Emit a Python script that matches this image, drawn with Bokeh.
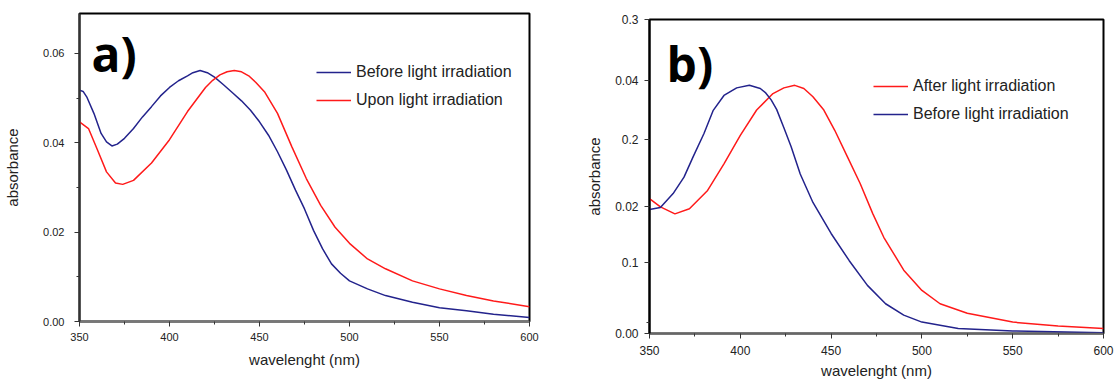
from bokeh.plotting import figure
from bokeh.layouts import row, column
from bokeh.models import Range1d, FixedTicker, Label, Legend, LegendItem
from bokeh.embed import file_html
from bokeh.resources import INLINE

# ---------------- data: panel a ----------------
a_before_x = [350, 352, 354, 358, 362, 365, 368, 371, 375, 380, 385, 390, 395, 400, 405,
              410, 413, 417, 421, 425, 430, 435, 440, 445, 450, 455, 460, 465, 470, 475,
              480, 485, 490, 495, 500, 510, 520, 535, 550, 565, 580, 600]
a_before_y = [0.0518, 0.0515, 0.0503, 0.0466, 0.0421, 0.0402, 0.0393, 0.0397, 0.0410,
              0.0432, 0.0458, 0.0481, 0.0505, 0.0524, 0.0539, 0.0550, 0.0557, 0.0562,
              0.0557, 0.0547, 0.0530, 0.0512, 0.0494, 0.0473, 0.0447, 0.0417, 0.0380,
              0.0339, 0.0294, 0.0252, 0.0204, 0.0163, 0.0129, 0.0108, 0.0091, 0.0073,
              0.0058, 0.0043, 0.0031, 0.0024, 0.0016, 0.0009]
a_upon_x = [350, 355, 360, 365, 370, 374, 380, 390, 400, 410, 420, 424, 428, 432, 436,
            440, 444, 448, 453, 460, 468, 476, 484, 492, 500, 510, 520, 535, 550, 565,
            580, 600]
a_upon_y = [0.0447, 0.0432, 0.0384, 0.0335, 0.0310, 0.0307, 0.0316, 0.0355, 0.0407,
            0.0470, 0.0524, 0.0540, 0.0552, 0.0559, 0.0562, 0.0559, 0.0550, 0.0535,
            0.0513, 0.0466, 0.0391, 0.0320, 0.0260, 0.0211, 0.0175, 0.0140, 0.0118,
            0.0091, 0.0073, 0.0058, 0.0046, 0.0033]

# ---------------- data: panel b ----------------
b_after_x = [350, 356, 364, 372, 382, 391, 400, 409, 418, 424, 430, 435, 440, 446, 452,
             459, 466, 473, 479, 490, 500, 510, 525, 550, 575, 600]
b_after_y = [0.0213, 0.0200, 0.0189, 0.0197, 0.0226, 0.0268, 0.0313, 0.0353, 0.0379,
             0.0388, 0.0392, 0.0387, 0.0374, 0.0353, 0.0321, 0.0279, 0.0237, 0.0189,
             0.0152, 0.0100, 0.0068, 0.0047, 0.0032, 0.0018, 0.0012, 0.0008]
b_before_x = [350, 356, 363, 369, 374, 380, 385, 391, 398, 405, 411, 414, 417, 420, 424,
              428, 433, 440, 450, 460, 470, 480, 490, 500, 520, 550, 600]
b_before_y = [0.0196, 0.0199, 0.0221, 0.0247, 0.0279, 0.0316, 0.0352, 0.0376, 0.0388,
              0.0392, 0.0387, 0.0380, 0.0369, 0.0354, 0.0325, 0.0295, 0.0252, 0.0207,
              0.0158, 0.0115, 0.0076, 0.0047, 0.0029, 0.0018, 0.0008, 0.0004, 0.0001]

x_ticks = [350, 400, 450, 500, 550, 600]
x_minor = [375, 425, 475, 525, 575]
a_y_ticks = [0, 0.02, 0.04, 0.06]
a_y_labels = ["0.00", "0.02", "0.04", "0.06"]
a_y_minor = [0.01, 0.03, 0.05]
b_y_ticks = [0, 0.01123, 0.02, 0.0307, 0.04, 0.0496]
b_y_labels = ["0.00", "0.1", "0.02", "0.2", "0.04", "0.3"]
b_y_minor = [0.0017]

BLUE = "#23238c"
RED = "#ff1a1a"
FONT = "Liberation Sans"


def style_axes(p, yticks, ylabels, yminor, tick_font, xaxis_color, yaxis_color,
               xaxis_w, yaxis_w):
    p.xaxis.ticker = FixedTicker(ticks=x_ticks, minor_ticks=x_minor)
    p.yaxis.ticker = FixedTicker(ticks=yticks, minor_ticks=yminor)
    p.yaxis.major_label_overrides = {t: l for t, l in zip(yticks, ylabels)}
    for ax, col, w in ((p.xaxis, xaxis_color, xaxis_w), (p.yaxis, yaxis_color, yaxis_w)):
        ax.axis_line_color = col
        ax.axis_line_width = w
        ax.major_tick_line_color = "#333333"
        ax.minor_tick_line_color = "#333333"
        ax.major_tick_out = 5
        ax.major_tick_in = 0
        ax.minor_tick_out = 3
        ax.minor_tick_in = 0
        ax.major_label_text_font = FONT
        ax.major_label_text_font_size = tick_font
        ax.major_label_text_color = "#222222"
        ax.axis_label_text_font = FONT
        ax.axis_label_text_font_size = "15px"
        ax.axis_label_text_font_style = "normal"
        ax.axis_label_text_color = "#222222"
    p.xaxis.axis_label = "wavelenght (nm)"
    p.yaxis.axis_label = "absorbance"
    p.grid.visible = False
    p.outline_line_color = "black"
    p.outline_line_width = 2
    p.background_fill_color = "white"
    p.border_fill_color = "white"


def make_legend(items, loc):
    return Legend(items=items, location=loc, border_line_color=None,
                  background_fill_alpha=0, padding=0, margin=0, spacing=8,
                  glyph_width=35, glyph_height=20, label_height=20, label_standoff=5,
                  label_text_font=FONT, label_text_font_size="16px",
                  label_text_color="#222222")


# ---------------- panel a ----------------
pa = figure(width=560, height=381, x_range=Range1d(350, 600), y_range=Range1d(0, 0.06895),
            output_backend="svg", toolbar_location=None,
            min_border_left=79, min_border_right=31, min_border_top=13, min_border_bottom=60)
style_axes(pa, a_y_ticks, a_y_labels, a_y_minor, "11px", "#777777", "#333333", 2, 2)
pa.xaxis.major_label_standoff = 6
pa.yaxis.major_label_standoff = 10
pa.xaxis.axis_label_standoff = 7
pa.yaxis.axis_label_standoff = 19

ra1 = pa.line(a_before_x, a_before_y, line_color=BLUE, line_width=1.5)
ra2 = pa.line(a_upon_x, a_upon_y, line_color=RED, line_width=1.5)
pa.add_layout(make_legend([LegendItem(label="Before light irradiation", renderers=[ra1]),
                           LegendItem(label="Upon light irradiation", renderers=[ra2])],
                          (237, 211)))
pa.add_layout(Label(x=356.7, y=0.0600, text="a)", text_font="Open Sans",
                    text_font_style="bold", text_font_size="48px", text_color="black",
                    text_baseline="alphabetic", text_align="left"))

# ---------------- panel b ----------------
pb = figure(width=555, height=381, x_range=Range1d(350, 600), y_range=Range1d(0, 0.0496),
            output_backend="svg", toolbar_location=None,
            min_border_left=89, min_border_right=12, min_border_top=19, min_border_bottom=47)
style_axes(pb, b_y_ticks, b_y_labels, b_y_minor, "12px", "#666666", "black", 1.5, 2)
pb.xaxis.major_label_standoff = 7
pb.yaxis.major_label_standoff = 6
pb.xaxis.axis_label_standoff = 4
pb.yaxis.axis_label_standoff = 9

rb1 = pb.line(b_after_x, b_after_y, line_color=RED, line_width=1.5)
rb2 = pb.line(b_before_x, b_before_y, line_color=BLUE, line_width=1.5)
pb.add_layout(make_legend([LegendItem(label="After light irradiation", renderers=[rb1]),
                           LegendItem(label="Before light irradiation", renderers=[rb2])],
                          (224, 209)))
pb.add_layout(Label(x=359.4, y=0.0427, text="b)", text_font="Open Sans",
                    text_font_style="bold", text_font_size="48px", text_color="black",
                    text_baseline="alphabetic", text_align="left"))

layout = row(column(pa), column(pb))
open("out.html", "w").write(file_html(layout, INLINE))
